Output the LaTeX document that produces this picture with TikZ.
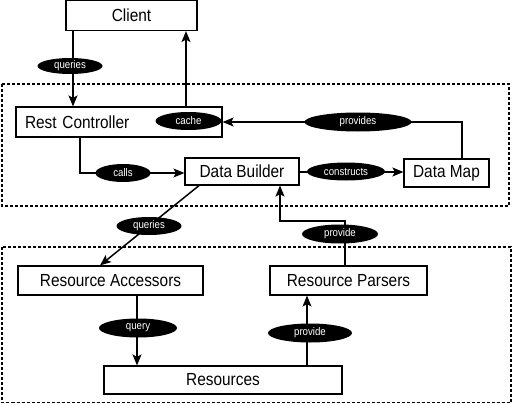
\documentclass[tikz,border=0pt]{standalone}
\usepackage{fontspec}
\setmainfont{Liberation Sans}[FakeStretch=0.88]
\usetikzlibrary{shapes.geometric,arrows.meta}
\tikzset{
  box/.style={draw, line width=1.2pt, inner sep=0pt, font=\fontsize{17.5}{20}\selectfont, anchor=center},
  lbl/.style={ellipse, fill=black, text=white, inner sep=0pt, font=\fontsize{11}{12}\selectfont},
  conn/.style={line width=1.5pt, -{Stealth[length=11pt,width=9pt,inset=2.5pt]}},
  plain/.style={line width=1.5pt},
  group/.style={draw, line width=1.2pt, dash pattern=on 3pt off 2pt}
}
\begin{document}
\begin{tikzpicture}[x=1pt,y=-1pt]
\useasboundingbox (0,0) rectangle (514,404);
% groups
\draw[group] (2,84) rectangle (509,206);
\draw[group] (2,247) rectangle (511,402.5);
% boxes
\node[box, minimum width=131pt, minimum height=30pt] (client) at (131.5,15.5) {Client};
\node[box, minimum width=206pt, minimum height=30pt, text width=188pt, inner xsep=9pt, align=left] (rest) at (119,122) {Rest Controller};
\node[box, minimum width=114pt, minimum height=27pt] (builder) at (242,171.5) {Data Builder};
\node[box, minimum width=85pt, minimum height=28pt] (map) at (446.5,173) {Data Map};
\node[box, minimum width=185pt, minimum height=29pt] (acc) at (110.5,280.5) {Resource Accessors};
\node[box, minimum width=157pt, minimum height=29pt] (pars) at (348.5,280.5) {Resource Parsers};
\node[box, minimum width=238pt, minimum height=28pt] (res) at (223,380) {Resources};
% coordinates
\coordinate (c1) at (80,173);
\coordinate (p1) at (462,122);
\coordinate (u1) at (345,221);
\coordinate (u2) at (280,221);
% connectors
\draw[conn] (client.south -| 73,0) -- (rest.north -| 73,0);
\draw[conn] (rest.north -| 186,0) -- (client.south -| 186,0);
\draw[conn] (rest.south -| c1) -- (c1) -- (builder.west |- c1);
\draw[conn] (builder.east |- 0,172) -- (map.west |- 0,172);
\draw[conn] (map.north -| p1) -- (p1) -- (rest.east |- p1);
\draw[conn] (builder.south -| 199,0) -- (acc.north -| 100,0);
\draw[conn] (acc.south -| 137,0) -- (res.north -| 137,0);
\draw[conn] (res.north -| 307,0) -- (pars.south -| 307,0);
\draw[conn] (pars.north -| u1) -- (u1) -- (u2) -- (builder.south -| u2);
% labels
\node[lbl, minimum width=65pt, minimum height=16pt] (lq1) at (70,66) {queries};
\node[lbl, minimum width=66pt, minimum height=18pt] (lcache) at (188.5,121) {cache};
\node[lbl, minimum width=55pt, minimum height=18pt] (lcalls) at (123,173) {calls};
\node[lbl, minimum width=78pt, minimum height=18pt] (lcons) at (346,171.5) {constructs};
\node[lbl, minimum width=107pt, minimum height=19pt] (lprov) at (358,122) {provides};
\node[lbl, minimum width=65pt, minimum height=18pt] (lq2) at (149,226) {queries};
\node[lbl, minimum width=76pt, minimum height=19pt] (lpu) at (340,234) {provide};
\node[lbl, minimum width=78pt, minimum height=19pt] (lquery) at (138,328) {query};
\node[lbl, minimum width=84pt, minimum height=19pt] (lpl) at (310,333) {provide};
\end{tikzpicture}
\end{document}
